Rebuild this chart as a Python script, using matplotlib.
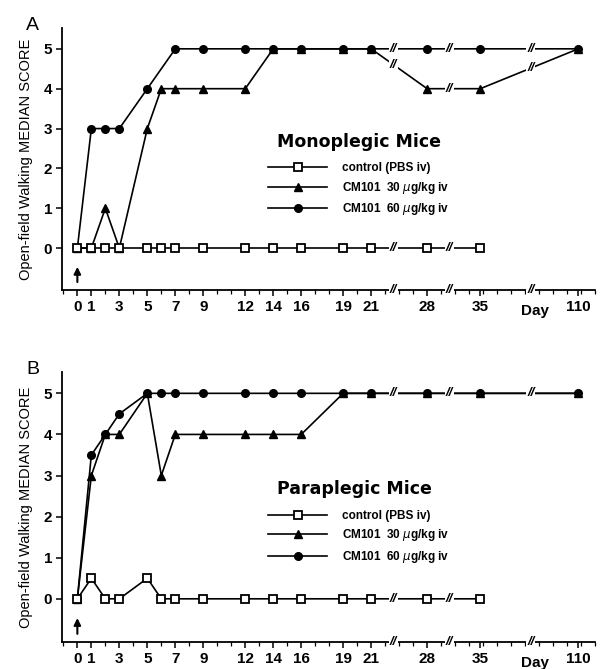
import numpy as np
import matplotlib
matplotlib.use('Agg')
import matplotlib.pyplot as plt
from matplotlib import transforms

plt.rcParams['font.family'] = ['Liberation Sans', 'DejaVu Sans']

# ---- data (day, median score) ----
days_ctrl = [0, 1, 2, 3, 5, 6, 7, 9, 12, 14, 16, 19, 21, 28, 35]
days_trt = [0, 1, 2, 3, 5, 6, 7, 9, 12, 14, 16, 19, 21, 28, 35, 110]

a_ctrl = [0, 0, 0, 0, 0, 0, 0, 0, 0, 0, 0, 0, 0, 0, 0]
a_30 = [0, 0, 1, 0, 3, 4, 4, 4, 4, 5, 5, 5, 5, 4, 4, 5]
a_60_days = [0, 1, 2, 3, 5, 7, 9, 12, 14, 16, 19, 21, 28, 35, 110]
a_60 = [0, 3, 3, 3, 4, 5, 5, 5, 5, 5, 5, 5, 5, 5, 5]

b_ctrl = [0, 0.5, 0, 0, 0.5, 0, 0, 0, 0, 0, 0, 0, 0, 0, 0]
b_30 = [0, 3, 4, 4, 5, 3, 4, 4, 4, 4, 4, 5, 5, 5, 5, 5]
b_60_days = [0, 1, 2, 3, 5, 6, 7, 9, 12, 14, 16, 19, 21, 28, 35, 110]
b_60 = [0, 3.5, 4, 4.5, 5, 5, 5, 5, 5, 5, 5, 5, 5, 5, 5, 5]

tick_days = [0, 1, 3, 5, 7, 9, 12, 14, 16, 19, 21, 28, 35, 110]
labels = ['control (PBS iv)', r'CM101  30 $\mu$g/kg iv', r'CM101  60 $\mu$g/kg iv']

# broken day axis: piecewise linear scale
knot_day = [-5, 0, 21, 28, 35, 110, 122]
knot_pos = [-5, 0, 21, 25, 28.8, 35.8, 37]
breaks = [23.8, 30.9, 73.6]


def fwd(d):
    return np.interp(d, knot_day, knot_pos)


def inv(p):
    return np.interp(p, knot_pos, knot_day)


def brk(ax, x, y, **extra):
    ax.text(x, y, '//', ha='center', va='center', fontsize=9.5,
            fontweight='bold', style='italic', zorder=6,
            bbox=dict(fc='white', ec='none', pad=0.6), **extra)


def draw_panel(ax, letter, title, ctrl, d60, s60, s30):
    ax.set_xscale('function', functions=(fwd, inv))
    ax.set_xlim(inv(-1.1), inv(37))
    ax.set_ylim(-1.05, 5.52)
    kw = dict(color='black', lw=1.2, clip_on=False)
    l60, = ax.plot(d60, s60, marker='o', ms=5.5, **kw, zorder=3)
    l30, = ax.plot(days_trt, s30, marker='^', ms=6, **kw, zorder=4)
    lc, = ax.plot(days_ctrl, ctrl, marker='s', ms=6, mfc='white', mew=1.3,
                  **kw, zorder=5)

    # break marks on the lines
    for dd, yy in [(days_ctrl, ctrl), (d60, s60), (days_trt, s30)]:
        for b in breaks:
            if b < max(dd):
                y = np.interp(fwd(b), fwd(np.array(dd)), yy)
                brk(ax, b, y)
    # break marks on the axis
    for b in breaks:
        brk(ax, b, -1.05, clip_on=False)

    ax.spines['top'].set_visible(False)
    ax.spines['right'].set_visible(False)
    ax.spines['left'].set_linewidth(1.3)
    ax.spines['bottom'].set_linewidth(1.3)
    ax.set_xticks(tick_days)
    ax.set_xticklabels([str(t) for t in tick_days])
    minor = [inv(p) for p in range(-1, 38)]
    ax.set_xticks(minor, minor=True)
    ax.set_yticks(range(6))
    ax.tick_params(axis='both', labelsize=11, width=1.1, length=4, pad=3)
    ax.tick_params(axis='x', which='minor', length=3, width=0.9)
    for t in ax.get_xticklabels() + ax.get_yticklabels():
        t.set_fontweight('bold')
    ax.set_ylabel('Open-field Walking MEDIAN SCORE', fontsize=10.5, labelpad=8)

    tr = transforms.blended_transform_factory(ax.transData, ax.transAxes)
    ax.annotate('Day', xy=(inv(32.7), 0), xycoords=tr, xytext=(0, -21),
                textcoords='offset pixels', ha='center', va='center',
                fontsize=11, fontweight='bold')
    ax.annotate('', xy=(0, -0.4), xytext=(0, -0.92),
                arrowprops=dict(arrowstyle='-|>', color='black', lw=1.5,
                                mutation_scale=10))
    ax.text(-0.055, 1.01, letter, transform=ax.transAxes, fontsize=14,
            ha='center', va='center')

    ax.text(0.403, 0.565, title, transform=ax.transAxes, fontsize=12.5,
            fontweight='bold', family='DejaVu Sans', ha='left', va='center')
    ax.legend([lc, l30, l60], labels, loc='upper left',
              bbox_to_anchor=(0.376, 0.51), frameon=False,
              prop=dict(size=8.5, weight='bold'),
              handlelength=5.0, handletextpad=1.2, labelspacing=0.45,
              borderpad=0)


fig = plt.figure(figsize=(6.16, 6.69), dpi=100)
axA = fig.add_axes([0.1006, 0.5665, 0.8654, 0.3915])
axB = fig.add_axes([0.1006, 0.0404, 0.8654, 0.4036])

draw_panel(axA, 'A', 'Monoplegic Mice', a_ctrl, a_60_days, a_60, a_30)
draw_panel(axB, 'B', 'Paraplegic Mice', b_ctrl, b_60_days, b_60, b_30)

fig.savefig('out.png', dpi=100)
